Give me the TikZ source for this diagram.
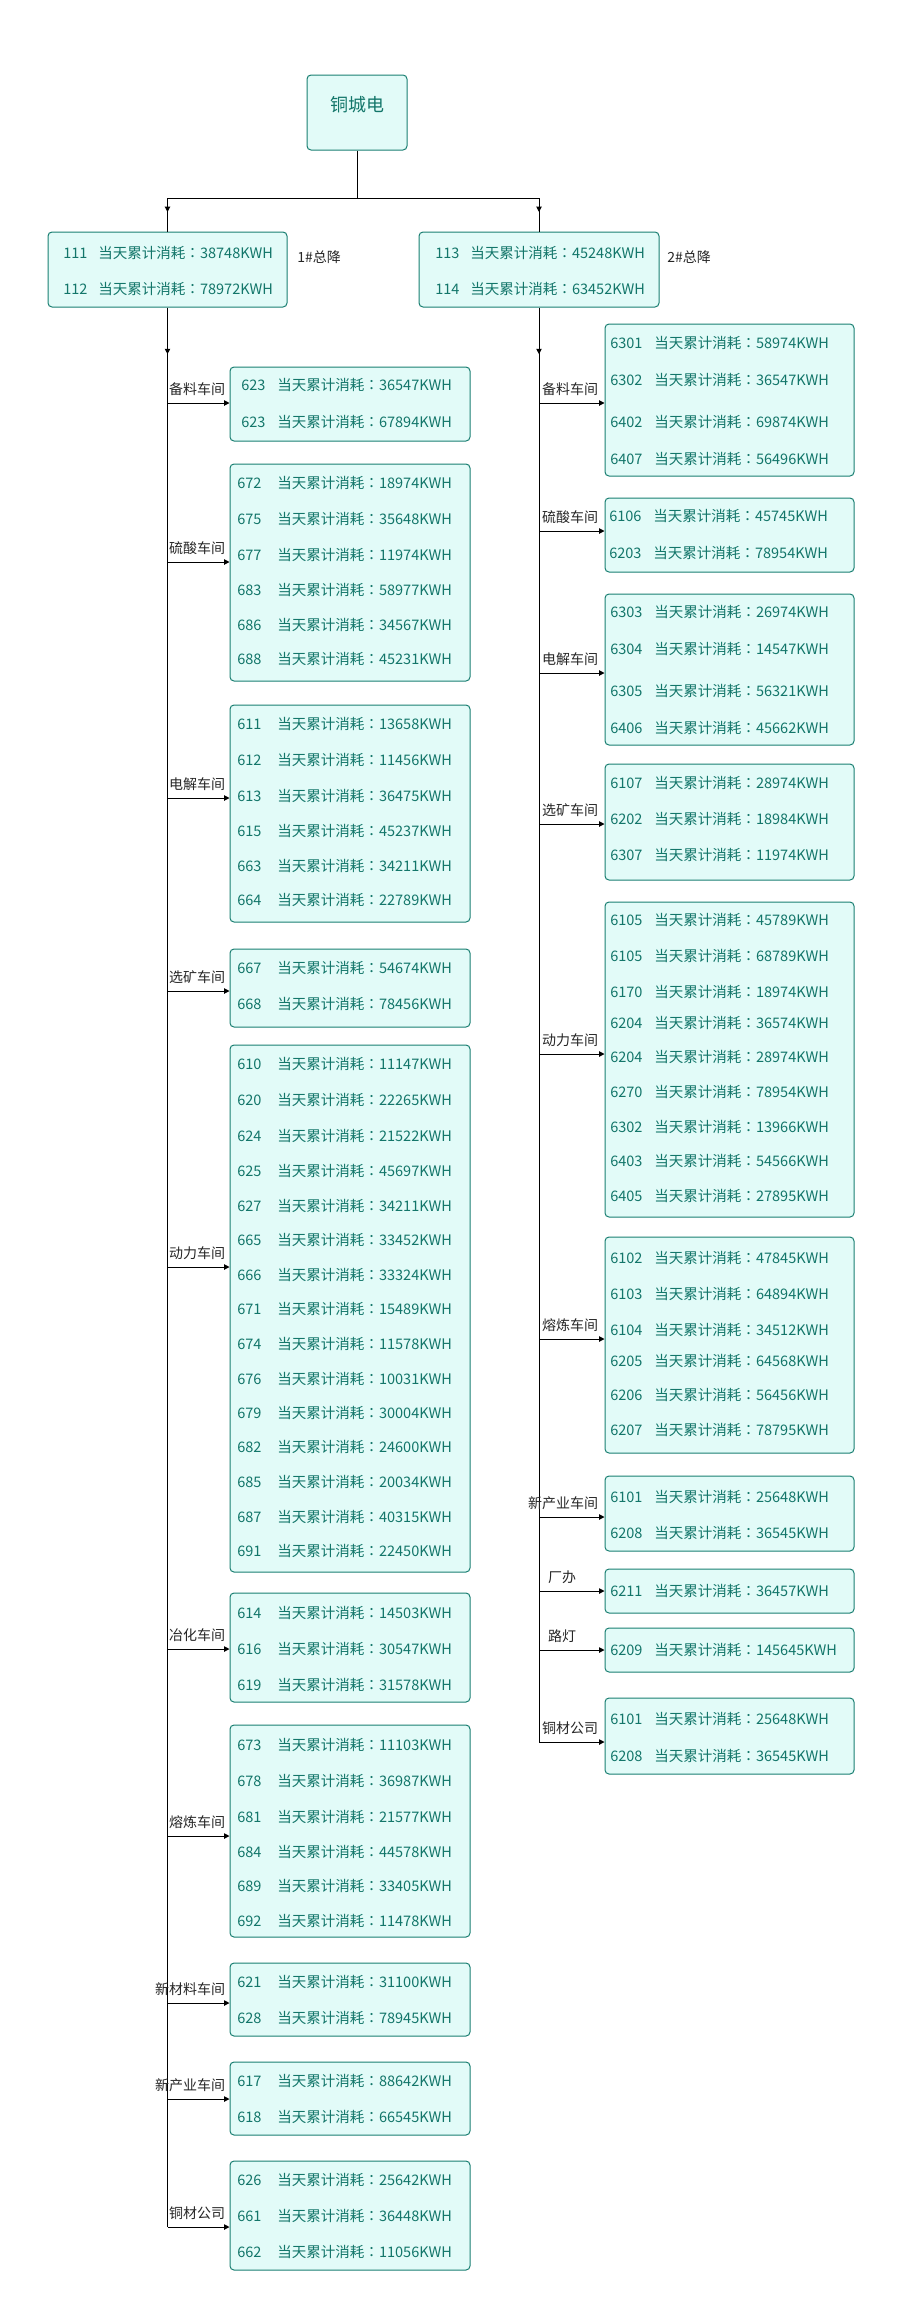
\documentclass[tikz,border=0pt]{standalone}
\usepackage{fontspec}
\setmainfont{Noto Sans CJK SC}
\newfontfamily\tcfont{Noto Sans CJK TC}
\usetikzlibrary{arrows.meta}
\usetikzlibrary{fit}
\usetikzlibrary{decorations.markings}

\definecolor{boxfill}{HTML}{E2FBF8}
\definecolor{boxline}{HTML}{1A7F72}
\definecolor{rowink}{HTML}{13766A}

\tikzset{
  meterbox/.style={draw=boxline, fill=boxfill, line width=0.75pt, rounded corners=3pt, inner sep=0pt},
  rowtxt/.style={anchor=west, inner sep=0pt, text=rowink, font=\fontsize{10.9pt}{13pt}\selectfont},
  lbl/.style={anchor=south east, inner sep=0pt, yshift=5pt, text=black!85, font=\fontsize{10.5pt}{12pt}\selectfont},
  feed/.style={-{Triangle[length=4pt,width=4pt]}, line width=0.75pt},
  midtip/.style={line width=0.75pt, postaction={decorate},
    decoration={markings, mark=at position #1 with {\arrow{Triangle[length=4pt,width=4pt]}}}},
}

% rows of one meter box: name, number x, text x, {y/number/value,...}
\newcommand\meterrows[4]{%
  \foreach \y/\num/\val [count=\i] in {#4} {
    \node[rowtxt] (#1-n\i) at (#2,\y) {\num};
    \node[rowtxt] (#1-v\i) at (#3,\y) {当天累计消耗{\tcfont ：}\val KWH};
  }}

% branch from a trunk to a box: [label shift], trunk node, box node, y, label
\newcommand\branch[5][-3pt]{%
  \draw[feed] (#2.south |- 0,#4) -- (#3.west |- 0,#4);
  \node[lbl, xshift=#1] (#3-lbl) at (#3.west |- 0,#4) {#5};}

\begin{document}
\begin{tikzpicture}[x=0.75pt, y=-0.75pt]
    \useasboundingbox (0,0) rectangle (909,2320);

    % top
    \node[meterbox, fit={(307,75) (407,150)}, text=rowink, font=\fontsize{13.5pt}{16pt}\selectfont] (root) {铜城电};
    \node[meterbox, fit={(48,232) (287,307)}] (B1) {};
    \meterrows{B1}{63}{98}{253/111/38748, 289/112/78972}
    \node[lbl, anchor=west, yshift=0pt] (B1-lbl) at (297,264) {1\#总降};
    \node[meterbox, fit={(419,232) (659,307)}] (B2) {};
    \meterrows{B2}{435}{470}{253/113/45248, 289/114/63452}
    \node[lbl, anchor=west, yshift=0pt] (B2-lbl) at (667,264) {2\#总降};

    \draw[line width=0.75pt] (root.south) -- (root.south |- 0,198) coordinate (fork);
    \draw[line width=0.75pt] (B1.north |- fork) -- (B2.north |- fork);
    \draw[midtip=10.5pt] (B1.north |- fork) -- (B1.north);
    \draw[midtip=10.5pt] (B2.north |- fork) -- (B2.north);

    % left column
    \node[meterbox, fit={(230,367) (470,441)}] (L1) {};
    \meterrows{L1}{241}{277}{385/623/36547, 422/623/67894}
    \node[meterbox, fit={(230,464) (470,681)}] (L2) {};
    \meterrows{L2}{237}{277}{483/672/18974, 519/675/35648, 555/677/11974, 590/683/58977, 625/686/34567, 659/688/45231}
    \node[meterbox, fit={(230,705) (470,922)}] (L3) {};
    \meterrows{L3}{237}{277}{724/611/13658, 760/612/11456, 796/613/36475, 831/615/45237, 866/663/34211, 900/664/22789}
    \node[meterbox, fit={(230,949) (470,1027)}] (L4) {};
    \meterrows{L4}{237}{277}{968/667/54674, 1004/668/78456}
    \node[meterbox, fit={(230,1045) (470,1572)}] (L5) {};
    \meterrows{L5}{237}{277}{1064/610/11147, 1100/620/22265, 1136/624/21522, 1171/625/45697, 1206/627/34211, 1240/665/33452, 1275/666/33324, 1309/671/15489, 1344/674/11578, 1379/676/10031, 1413/679/30004, 1447/682/24600, 1482/685/20034, 1517/687/40315, 1551/691/22450}
    \node[meterbox, fit={(230,1593) (470,1702)}] (L6) {};
    \meterrows{L6}{237}{277}{1613/614/14503, 1649/616/30547, 1685/619/31578}
    \node[meterbox, fit={(230,1725) (470,1937)}] (L7) {};
    \meterrows{L7}{237}{277}{1745/673/11103, 1781/678/36987, 1817/681/21577, 1852/684/44578, 1886/689/33405, 1921/692/11478}
    \node[meterbox, fit={(230,1963) (470,2036)}] (L8) {};
    \meterrows{L8}{237}{277}{1982/621/31100, 2018/628/78945}
    \node[meterbox, fit={(230,2062) (470,2135)}] (L9) {};
    \meterrows{L9}{237}{277}{2081/617/88642, 2117/618/66545}
    \node[meterbox, fit={(230,2161) (470,2270)}] (L10) {};
    \meterrows{L10}{237}{277}{2180/626/25642, 2216/661/36448, 2252/662/11056}

    \draw[midtip=35pt] (B1.south) -- (B1.south |- 0,2227);
    \branch{B1}{L1}{403}{备料车间}
    \branch{B1}{L2}{562}{硫酸车间}
    \branch{B1}{L3}{798}{电解车间}
    \branch{B1}{L4}{991}{选矿车间}
    \branch{B1}{L5}{1267}{动力车间}
    \branch{B1}{L6}{1649}{冶化车间}
    \branch{B1}{L7}{1836}{熔炼车间}
    \branch{B1}{L8}{2003}{新材料车间}
    \branch{B1}{L9}{2099}{新产业车间}
    \branch{B1}{L10}{2227}{铜材公司}

    % right column
    \node[meterbox, fit={(605,324) (854,476)}] (R1) {};
    \meterrows{R1}{610}{654}{343/6301/58974, 380/6302/36547, 422/6402/69874, 459/6407/56496}
    \node[meterbox, fit={(605,498) (854,572)}] (R2) {};
    \meterrows{R2}{609}{653}{516/6106/45745, 553/6203/78954}
    \node[meterbox, fit={(605,594) (854,745)}] (R3) {};
    \meterrows{R3}{610}{654}{612/6303/26974, 649/6304/14547, 691/6305/56321, 728/6406/45662}
    \node[meterbox, fit={(605,764) (854,880)}] (R4) {};
    \meterrows{R4}{610}{654}{783/6107/28974, 819/6202/18984, 855/6307/11974}
    \node[meterbox, fit={(605,902) (854,1217)}] (R5) {};
    \meterrows{R5}{610}{654}{920/6105/45789, 956/6105/68789, 992/6170/18974, 1023/6204/36574, 1057/6204/28974, 1092/6270/78954, 1127/6302/13966, 1161/6403/54566, 1196/6405/27895}
    \node[meterbox, fit={(605,1237) (854,1453)}] (R6) {};
    \meterrows{R6}{610}{654}{1258/6102/47845, 1294/6103/64894, 1330/6104/34512, 1361/6205/64568, 1395/6206/56456, 1430/6207/78795}
    \node[meterbox, fit={(605,1476) (854,1551)}] (R7) {};
    \meterrows{R7}{610}{654}{1497/6101/25648, 1533/6208/36545}
    \node[meterbox, fit={(605,1569) (854,1613)}] (R8) {};
    \meterrows{R8}{610}{654}{1591/6211/36457}
    \node[meterbox, fit={(605,1628) (854,1672)}] (R9) {};
    \meterrows{R9}{610}{654}{1650/6209/145645}
    \node[meterbox, fit={(605,1698) (854,1774)}] (R10) {};
    \meterrows{R10}{610}{654}{1719/6101/25648, 1756/6208/36545}

    \draw[midtip=35pt] (B2.south) -- (B2.south |- 0,1742);
    \branch[-4.5pt]{B2}{R1}{403}{备料车间}
    \branch[-4.5pt]{B2}{R2}{531}{硫酸车间}
    \branch[-4.5pt]{B2}{R3}{673}{电解车间}
    \branch[-4.5pt]{B2}{R4}{824}{选矿车间}
    \branch[-4.5pt]{B2}{R5}{1054}{动力车间}
    \branch[-4.5pt]{B2}{R6}{1339}{熔炼车间}
    \branch[-4.5pt]{B2}{R7}{1517}{新产业车间}
    \branch[-21pt]{B2}{R8}{1591}{厂办}
    \branch[-21pt]{B2}{R9}{1650}{路灯}
    \branch[-4.5pt]{B2}{R10}{1742}{铜材公司}
\end{tikzpicture}
\end{document}
